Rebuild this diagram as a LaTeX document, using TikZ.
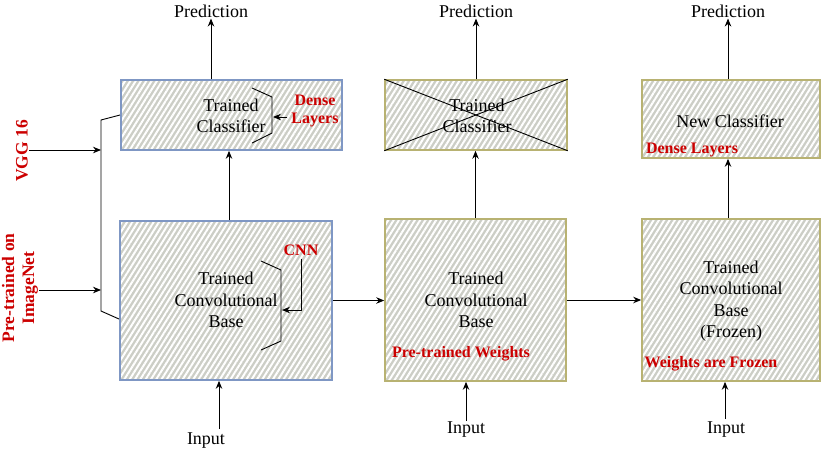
\documentclass[tikz,border=0pt]{standalone}
\usepackage{fontspec}
\setmainfont{Liberation Serif}
\usetikzlibrary{arrows.meta,patterns.meta}
\definecolor{redtxt}{HTML}{CC0000}
\definecolor{blueedge}{HTML}{7F97C4}
\definecolor{oliveedge}{HTML}{B8B272}
\definecolor{fillgray}{HTML}{CCCEC6}
\tikzset{
  hatchbox/.style={preaction={fill=fillgray},
    preaction={pattern={Lines[angle=58,distance=4.5pt,line width=2pt]},pattern color=white},
    draw=#1, line width=1.6pt, inner sep=0pt},
  maintxt/.style={font=\fontsize{18}{21.5}\selectfont, align=center, inner sep=1pt},
  redlbl/.style={font=\fontsize{16}{18}\selectfont\bfseries, text=redtxt, align=center, inner sep=1pt},
  arr/.style={line width=0.9pt, -{Stealth[length=8pt,width=6.5pt]}},
  plain/.style={line width=0.9pt}
}
\begin{document}
\begin{tikzpicture}[x=1pt,y=-1pt]
\useasboundingbox (0,0) rectangle (822,451);
% boxes
\node[hatchbox=blueedge, minimum width=221pt, minimum height=70pt] (B1c) at (231.5,115) {};
\node[hatchbox=blueedge, minimum width=212pt, minimum height=159pt] (B1b) at (226,300.5) {};
\node[hatchbox=oliveedge, minimum width=182pt, minimum height=70pt] (B2c) at (476,115) {};
\node[hatchbox=oliveedge, minimum width=181pt, minimum height=162pt] (B2b) at (475.5,300) {};
\node[hatchbox=oliveedge, minimum width=178pt, minimum height=78pt] (B3c) at (731,119) {};
\node[hatchbox=oliveedge, minimum width=178pt, minimum height=162pt] (B3b) at (731,300) {};
% texts in boxes
\node[maintxt] (T1c) at (231,116) {Trained\\Classifier};
\node[maintxt] (T1b) at (226,300) {Trained\\Convolutional\\Base};
\node[maintxt] (T2c) at (477,116) {Trained\\Classifier};
\node[maintxt] (T2b) at (476,300) {Trained\\Convolutional\\Base};
\node[maintxt] (T3c) at (730,121) {New Classifier};
\node[maintxt] (T3b) at (731,301) {Trained\\Convolutional\\Base\\(Frozen)};
% red labels
\node[redlbl] (L1c) at (315,111) {Dense\\Layers};
\node[redlbl] (L1b) at (301,250) {CNN};
\node[redlbl] (L2b) at (461,354) {Pre-trained Weights};
\node[redlbl] (L3c) at (692,150) {Dense Layers};
\node[redlbl] (L3b) at (711,364) {Weights are Frozen};
% cross on box 2 classifier
\draw[plain] (B2c.north west) -- (B2c.south east);
\draw[plain] (B2c.south west) -- (B2c.north east);
% brackets
\draw[plain] (252,88) -- (272,97) -- (272,133) -- (252,143);
\draw[arr] (L1c.west |- 0,117) ++(-3,0) coordinate (d1s) -- (273,117);
\draw[plain] (261,261) -- (281,270) -- (281,341) -- (261,350);
\draw[arr] (L1b.south) ++(0,2) |- (282,310);
% predictions
\node[maintxt] (P1) at (211,11) {Prediction};
\node[maintxt] (P2) at (476,11) {Prediction};
\node[maintxt] (P3) at (728,11) {Prediction};
\draw[arr] (P1.south |- B1c.north) -- (P1.south);
\draw[arr] (B2c.north) -- (P2.south);
\draw[arr] (P3.south |- B3c.north) -- (P3.south);
% vertical base -> classifier
\draw[arr] ([xshift=3pt]B1b.north) -- ([xshift=3pt]B1b.north |- B1c.south);
\draw[arr] (B2b.north) -- (B2b.north |- B2c.south);
\draw[arr] ([xshift=-3pt]B3b.north) -- ([xshift=-3pt]B3b.north |- B3c.south);
% horizontal
\draw[arr] (B1b.east) -- (B1b.east -| B2b.west);
\draw[arr] (B2b.east) -- (B2b.east -| B3b.west);
% inputs
\node[maintxt] (I1) at (206,441) {Input};
\node[maintxt] (I2) at (466,430) {Input};
\node[maintxt] (I3) at (726,430) {Input};
\coordinate (i1s) at (219,429);
\coordinate (i3s) at (725,419);
\draw[arr] (i1s) -- (i1s |- B1b.south);
\draw[arr] (I2.north) -- (B2b.south -| I2.north);
\draw[arr] (i3s) -- (i3s |- B3b.south);
% left side
\node[redlbl, font=\fontsize{17.5}{20}\selectfont\bfseries, rotate=90] (VGG) at (22,151) {VGG 16};
\node[redlbl, font=\fontsize{17.5}{20}\selectfont\bfseries, rotate=90] (PT) at (20,288) {Pre-trained on\\ImageNet};
\coordinate (jt) at (101,120);
\coordinate (jb) at (101,311);
\draw[plain] (120,115) -- (jt) -- (jb) -- (119,319);
\draw[arr] (VGG.south |- 0,150) -- (jt |- 0,150);
\draw[arr] (PT.south |- 0,290) -- (jt |- 0,290);
\end{tikzpicture}
\end{document}
